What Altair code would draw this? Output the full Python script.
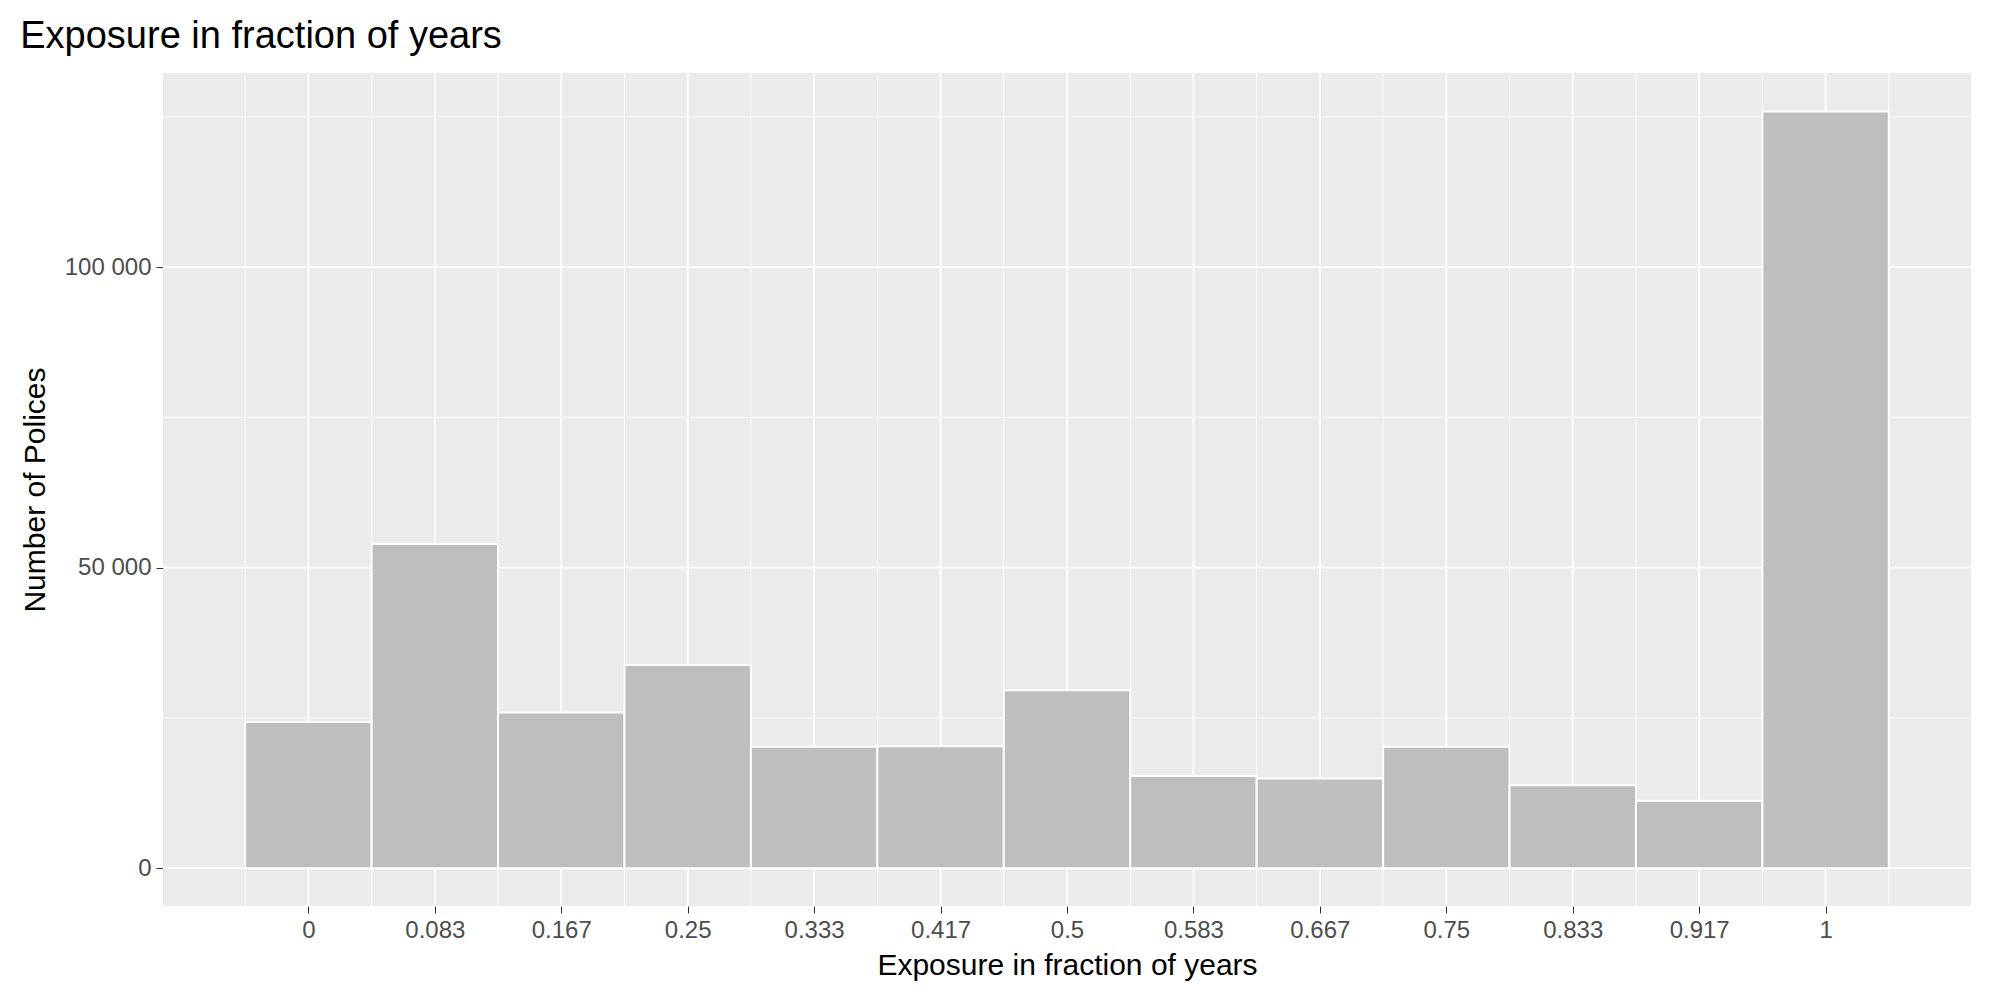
import altair as alt
import pandas as pd

centers = [i / 12 for i in range(13)]
counts = [24300, 53950, 25900, 33800, 20200, 20300, 29600, 15350, 14900, 20200, 13800, 11200, 125900]

w = 1 / 12
bars = pd.DataFrame({
    "x0": [c - w / 2 for c in centers],
    "x1": [c + w / 2 for c in centers],
    "n": counts,
})

pad = 0.05 * 13 / 12
xdom = [-w / 2 - pad, 1 + w / 2 + pad]
ydom = [-0.05 * 126000, 1.05 * 126000]

major_x = pd.DataFrame({"v": centers})
minor_x = pd.DataFrame({"v": [c - w / 2 for c in centers] + [1 + w / 2]})
major_y = pd.DataFrame({"v": [0, 50000, 100000]})
minor_y = pd.DataFrame({"v": [25000, 75000, 125000]})

xs = alt.Scale(domain=xdom, nice=False, zero=False)
ys = alt.Scale(domain=ydom, nice=False, zero=False)

xaxis = alt.Axis(values=centers, labelExpr="format(datum.value, '.3~f')", grid=False,
                 title="Exposure in fraction of years", labelFontSize=24, titleFontSize=30,
                 labelColor="#4D4D4D", titleColor="black", tickColor="#333333", tickSize=7,
                 domain=False, titleFontWeight="normal", labelPadding=5, titlePadding=8)
yaxis = alt.Axis(values=[0, 50000, 100000],
                 labelExpr="datum.value == 0 ? '0' : format(datum.value / 1000, 'd') + ' 000'",
                 grid=False, title="Number of Polices", labelFontSize=24, titleFontSize=30,
                 labelColor="#4D4D4D", titleColor="black", tickColor="#333333", tickSize=7,
                 domain=False, titleFontWeight="normal", labelPadding=5, titlePadding=14)

gx_minor = alt.Chart(minor_x).mark_rule(color="white", strokeWidth=0.8).encode(
    x=alt.X("v:Q", scale=xs, axis=xaxis))
gx_major = alt.Chart(major_x).mark_rule(color="white", strokeWidth=1.8).encode(
    x=alt.X("v:Q", scale=xs))
gy_minor = alt.Chart(minor_y).mark_rule(color="white", strokeWidth=0.8).encode(
    y=alt.Y("v:Q", scale=ys, axis=yaxis))
gy_major = alt.Chart(major_y).mark_rule(color="white", strokeWidth=1.8).encode(
    y=alt.Y("v:Q", scale=ys))

rects = alt.Chart(bars).mark_rect(fill="#BEBEBE", stroke="white", strokeWidth=2).encode(
    x=alt.X("x0:Q", scale=xs), x2="x1:Q",
    y=alt.Y("n:Q", scale=ys), y2=alt.datum(0))

chart = alt.layer(gx_minor, gx_major, gy_minor, gy_major, rects).properties(
    width=1984, height=984,
    padding={"left": 12, "top": 10, "right": 20, "bottom": 12},
    autosize=alt.AutoSizeParams(type="fit", contains="padding"),
    title=alt.Title("Exposure in fraction of years", anchor="start", fontSize=38,
                    fontWeight="normal", color="black", offset=16),
).configure(font="Liberation Sans").configure_view(fill="#EBEBEB", stroke=None)

chart.save("out.html", embed_options={"renderer": "svg", "actions": False})
